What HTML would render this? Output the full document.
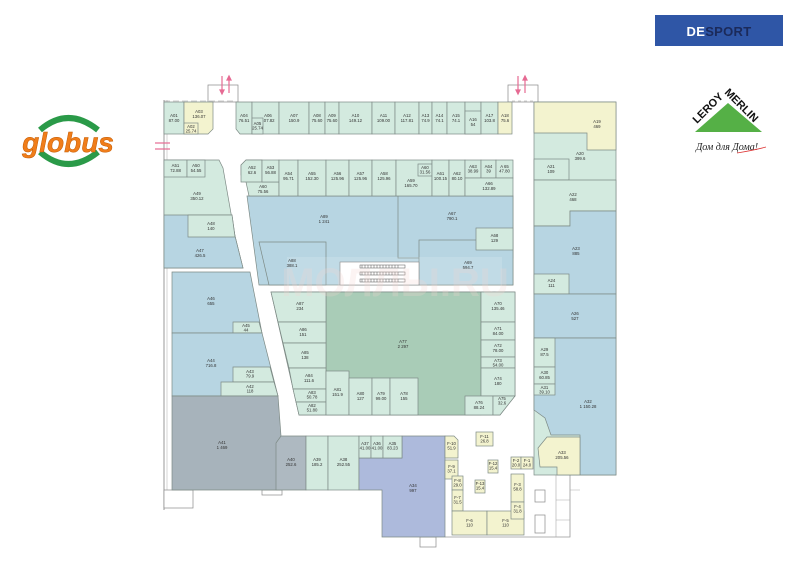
<!DOCTYPE html>
<html><head><meta charset="utf-8"><style>
html,body{margin:0;padding:0;background:#fff;width:800px;height:566px;overflow:hidden}
svg{display:block}
text{font-family:"Liberation Sans",sans-serif;font-size:4.3px;fill:#333;text-anchor:middle}
.g{fill:#d3eadf;stroke:#7d8a85;stroke-width:.7}
.b{fill:#b7d5e2;stroke:#7d8a85;stroke-width:.7}
.y{fill:#f3f3cf;stroke:#7d8a85;stroke-width:.7}
.w{fill:#fff;stroke:#8a8a8a;stroke-width:.7}
</style></head><body>
<svg width="800" height="566" viewBox="0 0 800 566" xmlns="http://www.w3.org/2000/svg">
<!-- outer walls -->
<line x1="164" y1="100" x2="164" y2="510" stroke="#999" stroke-width="1"/>
<line x1="167" y1="100" x2="167" y2="490" stroke="#bbb" stroke-width=".6"/>
<rect x="164" y="490" width="29" height="18" class="w"/>
<rect x="208" y="85" width="30" height="17" fill="none" stroke="#888" stroke-width=".7"/>
<rect x="508" y="85" width="30" height="17" fill="none" stroke="#888" stroke-width=".7"/>
<line x1="164" y1="101" x2="236" y2="101" stroke="#999" stroke-width=".6" stroke-dasharray="6 3"/>
<line x1="512" y1="101" x2="534" y2="101" stroke="#999" stroke-width=".6" stroke-dasharray="3 3"/>
<path d="M445,537 H570 V475" fill="none" stroke="#999" stroke-width=".8"/>
<path d="M556,475 V537 M570,490 H580 M556,500 H570 M556,520 H570" fill="none" stroke="#aaa" stroke-width=".6"/>
<rect x="262" y="490" width="20" height="5" class="w"/>
<rect x="420" y="537" width="16" height="10" class="w"/>
<!-- arrows -->
<g stroke="#e66a93" stroke-width="1.2" fill="#e66a93">
<line x1="222" y1="76" x2="222" y2="92"/><path d="M220,90 L222,94 L224,90Z"/>
<line x1="229" y1="93" x2="229" y2="78"/><path d="M227,80 L229,76 L231,80Z"/>
<line x1="518" y1="76" x2="518" y2="92"/><path d="M516,90 L518,94 L520,90Z"/>
<line x1="525" y1="93" x2="525" y2="78"/><path d="M523,80 L525,76 L527,80Z"/>
<line x1="155" y1="143" x2="170" y2="143"/><line x1="155" y1="149" x2="170" y2="149"/>
</g>
<!-- top row -->
<rect x="164" y="102" width="20" height="32" class="g"/><text x="174" y="117">A01<tspan x="174" dy="5">87.00</tspan></text>
<path d="M184,102 H213 V129 L208,134 H184Z" class="y"/><text x="199" y="113">A03<tspan x="199" dy="5">136.07</tspan></text>
<rect x="184" y="123" width="14" height="11" class="y"/><text x="191" y="128">A02<tspan x="191" dy="4.5">25.74</tspan></text>
<path d="M236,102 H252 V134 H240 L236,129Z" class="g"/><text x="244" y="117">A04<tspan x="244" dy="5">76.51</tspan></text>
<rect x="252" y="102" width="27" height="32" class="g"/><text x="268" y="117">A06<tspan x="268" dy="5">107.82</tspan></text>
<rect x="252" y="118" width="11" height="16" class="g"/><text x="257.5" y="125">A05<tspan x="257.5" dy="4.5">25.74</tspan></text>
<rect x="279" y="102" width="30" height="32" class="g"/><text x="294" y="117">A07<tspan x="294" dy="5">150.9</tspan></text>
<rect x="309" y="102" width="16" height="32" class="g"/><text x="317" y="117">A08<tspan x="317" dy="5">75.60</tspan></text>
<rect x="325" y="102" width="14" height="32" class="g"/><text x="332" y="117">A09<tspan x="332" dy="5">75.60</tspan></text>
<rect x="339" y="102" width="33" height="32" class="g"/><text x="355.5" y="117">A10<tspan x="355.5" dy="5">149.12</tspan></text>
<rect x="372" y="102" width="23" height="32" class="g"/><text x="383.5" y="117">A11<tspan x="383.5" dy="5">109.00</tspan></text>
<rect x="395" y="102" width="24" height="32" class="g"/><text x="407" y="117">A12<tspan x="407" dy="5">117.81</tspan></text>
<rect x="419" y="102" width="13" height="32" class="g"/><text x="425.5" y="117">A13<tspan x="425.5" dy="5">74.9</tspan></text>
<rect x="432" y="102" width="15" height="32" class="g"/><text x="439.5" y="117">A14<tspan x="439.5" dy="5">74.1</tspan></text>
<rect x="447" y="102" width="18" height="32" class="g"/><text x="456" y="117">A15<tspan x="456" dy="5">74.1</tspan></text>
<rect x="465" y="102" width="16" height="32" class="g"/>
<rect x="465" y="111" width="16" height="23" class="g"/><text x="473" y="121">A16<tspan x="473" dy="5">54</tspan></text>
<rect x="481" y="102" width="17" height="32" class="g"/><text x="489.5" y="117">A17<tspan x="489.5" dy="5">103.8</tspan></text>
<rect x="498" y="102" width="14" height="32" class="y"/><text x="505" y="117">A18<tspan x="505" dy="5">75.6</tspan></text>
<!-- left block -->
<path d="M164,160 H219 L223,168 L235,236 L243,268 H164Z" class="g"/><text x="197" y="195">A49<tspan x="197" dy="5">350.12</tspan></text>
<path d="M164,215 H232 L235,236 L243,268 H164Z" class="b"/><text x="200" y="252">A47<tspan x="200" dy="5">426.5</tspan></text>
<path d="M188,215 H232 L235,237 H188Z" class="g"/><text x="211" y="225">A48<tspan x="211" dy="5">140</tspan></text>
<rect x="164" y="160" width="23" height="17" class="g"/><text x="175.5" y="167">A51<tspan x="175.5" dy="5">72.88</tspan></text>
<rect x="187" y="160" width="18" height="17" class="g"/><text x="196" y="167">A50<tspan x="196" dy="5">54.55</tspan></text>
<path d="M172,272 H250 L262,333 H172Z" class="b"/><text x="211" y="300">A46<tspan x="211" dy="5">655</tspan></text>
<path d="M233,322 H259 L262,333 H233Z" class="g"/><text x="246" y="327">A45<tspan x="246" dy="4.5">44</tspan></text>
<path d="M172,333 H262 L278,396 H172Z" class="b"/><text x="211" y="362">A44<tspan x="211" dy="5">716.8</tspan></text>
<path d="M233,367 H270 L274,382 H233Z" class="g"/><text x="250" y="373">A43<tspan x="250" dy="4.5">79.9</tspan></text>
<path d="M221,382 H274 L278,396 H221Z" class="g"/><text x="250" y="388">A42<tspan x="250" dy="4.5">118</tspan></text>
<path d="M172,396 H278 L281,436 V490 H172Z" fill="#a7b3bb" stroke="#7d8a85" stroke-width=".7"/><text x="222" y="444">A41<tspan x="222" dy="5">1 469</tspan></text>
<path d="M281,436 H306 V490 H276 V443Z" fill="#aeb9c1" stroke="#7d8a85" stroke-width=".7"/><text x="291" y="461">A40<tspan x="291" dy="5">252.6</tspan></text>
<rect x="306" y="436" width="22" height="54" class="g"/><text x="317" y="461">A39<tspan x="317" dy="5">185.2</tspan></text>
<rect x="328" y="436" width="31" height="54" class="g"/><text x="343.5" y="461">A38<tspan x="343.5" dy="5">252.55</tspan></text>
<path d="M359,458 H402 V436 H445 V537 H382 V490 H359Z" fill="#adbadc" stroke="#7d8a85" stroke-width=".7"/><text x="413" y="487">A34<tspan x="413" dy="5">997</tspan></text>
<rect x="359" y="436" width="12" height="22" class="g"/><text x="365" y="445">A37<tspan x="365" dy="4.5">41.00</tspan></text>
<rect x="371" y="436" width="12" height="22" class="g"/><text x="377" y="445">A36<tspan x="377" dy="4.5">41.00</tspan></text>
<rect x="383" y="436" width="19" height="22" class="g"/><text x="392.5" y="445">A35<tspan x="392.5" dy="4.5">83.23</tspan></text>
<!-- upper centre -->
<path d="M247,196 H513 V285 H259Z" class="b"/>
<text x="324" y="218">A89<tspan x="324" dy="5">1 241</tspan></text>
<rect x="398" y="196" width="115" height="62" class="b"/><text x="452" y="215">A67<tspan x="452" dy="5">790.1</tspan></text>
<path d="M259,242 H326 V285 H269Z" class="b"/>
<rect x="419" y="240" width="94" height="45" class="b"/>
<rect x="287" y="257" width="215" height="43" fill="#fff" opacity=".15"/>
<text x="292" y="262">A88<tspan x="292" dy="5">388.1</tspan></text>
<text x="468" y="264">A69<tspan x="468" dy="5">594.7</tspan></text>
<rect x="476" y="228" width="37" height="22" class="g"/><text x="494.5" y="237">A68<tspan x="494.5" dy="5">129</tspan></text>
<rect x="340" y="262" width="79" height="23" fill="#fff" stroke="#888" stroke-width=".6"/>
<g stroke="#555" stroke-width=".5" fill="none">
<rect x="360" y="265" width="45" height="3"/><rect x="360" y="272" width="45" height="3"/><rect x="360" y="279" width="45" height="3"/>
<path d="M362,265 v3 m3,-3 v3 m3,-3 v3 m3,-3 v3 m3,-3 v3 m3,-3 v3 m3,-3 v3 m3,-3 v3 m3,-3 v3 m3,-3 v3 m3,-3 v3 m3,-3 v3 m3,-3 v3 M362,272 v3 m3,-3 v3 m3,-3 v3 m3,-3 v3 m3,-3 v3 m3,-3 v3 m3,-3 v3 m3,-3 v3 m3,-3 v3 m3,-3 v3 m3,-3 v3 m3,-3 v3 m3,-3 v3 M362,279 v3 m3,-3 v3 m3,-3 v3 m3,-3 v3 m3,-3 v3 m3,-3 v3 m3,-3 v3 m3,-3 v3 m3,-3 v3 m3,-3 v3 m3,-3 v3 m3,-3 v3 m3,-3 v3"/>
</g>
<path d="M246,160 H262 V182 H279 V196 H249 L246,182 L241,175 V165Z" class="g"/>
<path d="M246,160 H262 V182 H241 V165Z" class="g"/><text x="252" y="169">A52<tspan x="252" dy="5">62.6</tspan></text>
<rect x="262" y="160" width="17" height="22" class="g"/><text x="270.5" y="169">A53<tspan x="270.5" dy="5">56.88</tspan></text>
<text x="263" y="188">A60<tspan x="263" dy="5">75.56</tspan></text>
<rect x="279" y="160" width="19" height="36" class="g"/><text x="288.5" y="175">A54<tspan x="288.5" dy="5">95.71</tspan></text>
<rect x="298" y="160" width="28" height="36" class="g"/><text x="312" y="175">A55<tspan x="312" dy="5">152.30</tspan></text>
<rect x="326" y="160" width="23" height="36" class="g"/><text x="337.5" y="175">A56<tspan x="337.5" dy="5">125.96</tspan></text>
<rect x="349" y="160" width="23" height="36" class="g"/><text x="360.5" y="175">A57<tspan x="360.5" dy="5">125.96</tspan></text>
<rect x="372" y="160" width="24" height="36" class="g"/><text x="384" y="175">A58<tspan x="384" dy="5">125.96</tspan></text>
<rect x="396" y="160" width="36" height="36" class="g"/><text x="411" y="182">A59<tspan x="411" dy="5">165.70</tspan></text>
<rect x="418" y="164" width="14" height="12" class="g"/><text x="425" y="169">A60<tspan x="425" dy="4.5">31.56</tspan></text>
<rect x="432" y="160" width="17" height="36" class="g"/><text x="440.5" y="175">A61<tspan x="440.5" dy="5">100.15</tspan></text>
<rect x="449" y="160" width="16" height="36" class="g"/><text x="457" y="175">A62<tspan x="457" dy="5">80.10</tspan></text>
<rect x="465" y="160" width="16" height="18" class="g"/><text x="473" y="168">A63<tspan x="473" dy="4.5">38.99</tspan></text>
<rect x="481" y="160" width="15" height="18" class="g"/><text x="488.5" y="168">A64<tspan x="488.5" dy="4.5">39</tspan></text>
<rect x="496" y="160" width="17" height="18" class="g"/><text x="504.5" y="168">A 65<tspan x="504.5" dy="4.5">47.80</tspan></text>
<rect x="465" y="178" width="48" height="18" class="g"/><text x="489" y="185">A66<tspan x="489" dy="5">132.89</tspan></text>
<!-- lower centre -->
<path d="M271,292 H515 V396 L500,415 H299Z" class="g"/>
<rect x="326" y="292" width="155" height="123" fill="#a9ccb7" stroke="#7d8a85" stroke-width=".7"/><text x="403" y="343">A77<tspan x="403" dy="5">2 297</tspan></text>
<path d="M271,292 H326 V322 H278Z" class="g"/><text x="300" y="305">A87<tspan x="300" dy="5">234</tspan></text>
<path d="M278,322 H326 V343 H283Z" class="g"/><text x="303" y="331">A86<tspan x="303" dy="5">151</tspan></text>
<path d="M283,343 H326 V368 H289Z" class="g"/><text x="305" y="354">A85<tspan x="305" dy="5">138</tspan></text>
<path d="M289,368 H326 V389 H293Z" class="g"/><text x="309" y="377">A84<tspan x="309" dy="5">111.6</tspan></text>
<path d="M293,389 H326 V402 H296Z" class="g"/><text x="312" y="394">A83<tspan x="312" dy="4.5">50.78</tspan></text>
<path d="M296,402 H326 V415 H299Z" class="g"/><text x="312" y="407">A82<tspan x="312" dy="4.5">51.80</tspan></text>
<rect x="326" y="371" width="23" height="44" class="g"/><text x="337.5" y="391">A81<tspan x="337.5" dy="5">151.9</tspan></text>
<rect x="349" y="378" width="23" height="37" class="g"/><text x="360.5" y="395">A80<tspan x="360.5" dy="5">127</tspan></text>
<rect x="372" y="378" width="18" height="37" class="g"/><text x="381" y="395">A79<tspan x="381" dy="5">99.00</tspan></text>
<rect x="390" y="378" width="28" height="37" class="g"/><text x="404" y="395">A78<tspan x="404" dy="5">155</tspan></text>
<rect x="481" y="292" width="34" height="30" class="g"/><text x="498" y="305">A70<tspan x="498" dy="5">135.46</tspan></text>
<rect x="481" y="322" width="34" height="18" class="g"/><text x="498" y="330">A71<tspan x="498" dy="5">84.00</tspan></text>
<rect x="481" y="340" width="34" height="17" class="g"/><text x="498" y="347">A72<tspan x="498" dy="5">78.00</tspan></text>
<rect x="481" y="357" width="34" height="11" class="g"/><text x="498" y="362">A73<tspan x="498" dy="4.5">54.00</tspan></text>
<rect x="481" y="368" width="34" height="28" class="g"/><text x="498" y="380">A74<tspan x="498" dy="5">180</tspan></text>
<rect x="465" y="396" width="28" height="19" class="g"/><text x="479" y="404">A76<tspan x="479" dy="5">88.24</tspan></text>
<path d="M493,396 H515 L500,415 H493Z" class="g"/><text x="502" y="400">A75<tspan x="502" dy="4.5">32.6</tspan></text>
<!-- watermark -->
<text x="395" y="296" style="font-size:40px;fill:#f4d6d0;opacity:.25;font-weight:bold">МОЛЛЫ.RU</text>
<!-- right column -->
<rect x="534" y="102" width="82" height="373" class="g"/>
<path d="M534,102 H616 V150 H587 V133 H534Z" class="y"/><text x="597" y="123">A19<tspan x="597" dy="5">469</tspan></text>
<text x="580" y="155">A20<tspan x="580" dy="5">399.6</tspan></text>
<rect x="534" y="159" width="35" height="21" class="g"/><text x="551" y="168">A21<tspan x="551" dy="5">109</tspan></text>
<path d="M534,180 H616 V211 H570 V226 H534Z" class="g"/><text x="573" y="196">A22<tspan x="573" dy="5">468</tspan></text>
<path d="M570,211 H616 V294 H534 V226 H570Z" class="b"/><text x="576" y="250">A23<tspan x="576" dy="5">885</tspan></text>
<rect x="534" y="274" width="35" height="20" class="g"/><text x="551.5" y="282">A24<tspan x="551.5" dy="5">111</tspan></text>
<rect x="534" y="294" width="82" height="44" class="b"/><text x="575" y="315">A26<tspan x="575" dy="5">527</tspan></text>
<path d="M534,338 H616 V475 H580 V435 H551 L545,418 L534,410Z" class="b"/><text x="588" y="403">A32<tspan x="588" dy="5">1 150.28</tspan></text>
<rect x="534" y="338" width="21" height="29" class="g"/><text x="544.5" y="351">A29<tspan x="544.5" dy="5">87.5</tspan></text>
<rect x="534" y="367" width="21" height="17" class="g"/><text x="544.5" y="374">A30<tspan x="544.5" dy="5">60.85</tspan></text>
<rect x="534" y="384" width="21" height="11" class="g"/><text x="544.5" y="389">A31<tspan x="544.5" dy="4.5">39.10</tspan></text>
<path d="M538,448 L547,437 H580 V475 H557 V467 H540Z" class="y"/><text x="562" y="454">A33<tspan x="562" dy="5">205.56</tspan></text>
<!-- F shops -->
<rect x="476" y="432" width="17" height="14" class="y"/><text x="484.5" y="438">F-11<tspan x="484.5" dy="4.5">26.8</tspan></text>
<path d="M445,436 H454 L458,440 V458 H445Z" class="y"/><text x="451.5" y="445">F-10<tspan x="451.5" dy="4.5">51.9</tspan></text>
<rect x="445" y="460" width="13" height="19" class="y"/><text x="451.5" y="468">F-9<tspan x="451.5" dy="4.5">37.1</tspan></text>
<rect x="452" y="476" width="11" height="14" class="y"/><text x="457.5" y="482">F-8<tspan x="457.5" dy="4.5">29.0</tspan></text>
<rect x="452" y="490" width="11" height="21" class="y"/><text x="457.5" y="499">F-7<tspan x="457.5" dy="4.5">31.5</tspan></text>
<rect x="452" y="511" width="35" height="24" class="y"/><text x="469.5" y="522">F-6<tspan x="469.5" dy="4.5">110</tspan></text>
<rect x="487" y="511" width="37" height="24" class="y"/><text x="505.5" y="522">F-5<tspan x="505.5" dy="4.5">110</tspan></text>
<rect x="488" y="460" width="10" height="13" class="y"/><text x="493" y="465">F-12<tspan x="493" dy="4.5">15.4</tspan></text>
<rect x="475" y="480" width="10" height="13" class="y"/><text x="480" y="485">F-13<tspan x="480" dy="4.5">15.4</tspan></text>
<rect x="511" y="457" width="10" height="12" class="y"/><text x="516" y="462">F-2<tspan x="516" dy="4.5">20.0</tspan></text>
<rect x="521" y="457" width="12" height="12" class="y"/><text x="527" y="462">F-1<tspan x="527" dy="4.5">24.0</tspan></text>
<rect x="511" y="474" width="13" height="28" class="y"/><text x="517.5" y="486">F-3<tspan x="517.5" dy="4.5">58.8</tspan></text>
<rect x="511" y="502" width="13" height="17" class="y"/><text x="517.5" y="508">F-4<tspan x="517.5" dy="4.5">31.8</tspan></text>
<rect x="535" y="490" width="10" height="12" class="w"/><rect x="535" y="515" width="10" height="18" class="w"/>
<!-- logos -->
<rect x="655" y="15" width="128" height="31" fill="#2f56a6"/>
<text x="719" y="36" style="font-size:13px;font-weight:bold;fill:#fff;letter-spacing:.3px">DE<tspan style="fill:#1b2a5a">SPORT</tspan></text>
<path d="M728,103 L695,132 H762Z" fill="#55b046"/>
<text x="0" y="0" transform="translate(697,124) rotate(-45)" style="font-size:11px;font-weight:bold;fill:#111;text-anchor:start">LEROY</text>
<text x="0" y="0" transform="translate(724,93) rotate(45)" style="font-size:11px;font-weight:bold;fill:#111;text-anchor:start">MERLIN</text>
<text x="727" y="150" style="font-size:10px;font-style:italic;font-family:'Liberation Serif',serif;fill:#222">Дом для Дома!</text>
<path d="M737,153 Q755,150 766,147" stroke="#d33" stroke-width=".8" fill="none"/>
<path d="M40,130 Q68,106 98,130" fill="none" stroke="#2a9a48" stroke-width="6"/>
<path d="M40,152 Q68,176 98,152" fill="none" stroke="#2a9a48" stroke-width="6"/>
<text x="68" y="152" style="font-size:28px;font-weight:bold;font-style:italic;fill:#f07d1a;stroke:#c25a00;stroke-width:.5">globus</text>
</svg>
</body></html>
